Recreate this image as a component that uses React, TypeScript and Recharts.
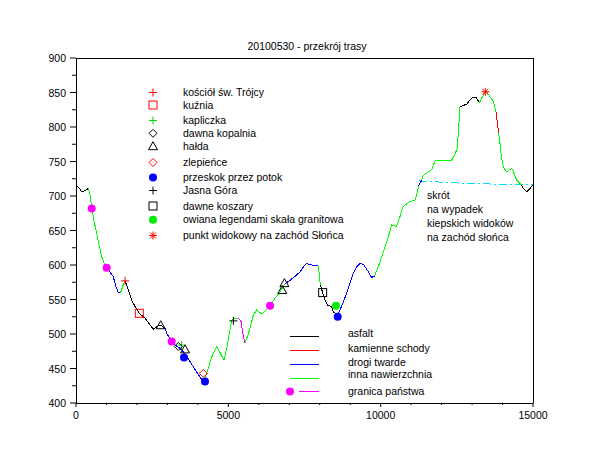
import { ComposedChart, Line, Scatter, XAxis, YAxis, ReferenceLine } from "recharts";

// elevation profile: distance [m], height [m a.s.l.], surface of the stretch starting at that point
const dist = [
  0, 100, 190, 300, 405, 470, 515, 600, 680, 760, 843, 920, 1006, 1070, 1160, 1225, 1300, 1390, 1466, 1540,
  1608, 1663, 1750, 1827, 1937, 2078, 2265, 2400, 2538, 2670, 2780, 2921, 2976, 3140, 3250, 3357, 3467, 3578, 3742, 3960,
  4092, 4200, 4300, 4450, 4618, 4740, 4858, 4950, 5033, 5110, 5200, 5330, 5420, 5480, 5547, 5630, 5711, 5820, 5930, 6095,
  6250, 6368, 6520, 6696, 6840, 7000, 7200, 7352, 7480, 7571, 7735, 7954, 7990, 8020, 8096, 8173, 8249, 8391, 8446, 8520,
  8589, 8665, 8780, 8884, 9000, 9103, 9220, 9322, 9431, 9600, 9700, 9800, 9869, 10000, 10142, 10260, 10361, 10525, 10640, 10744,
  10963, 11127, 11200, 11250, 11346, 11400, 11674, 11783, 12331, 12450, 12514, 12560, 12604, 12700, 12823, 12940, 13041, 13151, 13238, 13315,
  13435, 13480, 13600, 13698, 13786, 13874, 13917, 13970, 14026, 14136, 14300, 14355, 14464, 14628, 14683, 14792, 14902, 15000,
];
const elev = [
  716, 712, 706, 708, 711, 700, 682, 662, 646, 628, 612, 603, 596, 592, 587, 583, 570, 560, 560, 570,
  577, 571, 560, 549, 540, 530, 523, 515, 507, 511, 513, 508, 501, 489, 484, 481, 477, 471, 460, 445,
  436, 431, 445, 466, 482, 472, 462, 480, 501, 520, 523, 523, 518, 500, 487, 497, 508, 527, 535, 529,
  535, 541, 551, 561, 572, 577, 584, 590, 598, 602, 600, 599, 585, 571, 560, 549, 542, 540, 532, 530,
  527, 535, 547, 559, 575, 588, 598, 602, 601, 590, 582, 584, 592, 607, 626, 642, 658, 656, 671, 685,
  692, 694, 705, 715, 723, 730, 738, 751, 752, 762, 769, 800, 829, 831, 833, 840, 843, 842, 835, 842,
  851, 851, 843, 837, 822, 791, 776, 755, 742, 735, 740, 735, 723, 716, 711, 706, 711, 716,
];
const surface = [
  "A", "A", "A", "A", "I", "I", "I", "I", "I", "I", "I", "I", "I", "D", "D", "D", "D", "D", "I", "I",
  "A", "A", "A", "A", "A", "A", "A", "A", "A", "A", "A", "D", "D", "D", "D", "D", "D", "D", "D", "D",
  "D", "I", "I", "I", "I", "I", "I", "I", "I", "I", "I", "G", "G", "G", "I", "I", "I", "I", "I", "I",
  "I", "I", "I", "I", "D", "D", "D", "D", "D", "D", "D", "I", "I", "A", "A", "A", "A", "A", "A", "D",
  "D", "D", "D", "D", "D", "D", "D", "D", "D", "D", "D", "I", "I", "I", "I", "I", "I", "I", "I", "I",
  "I", "I", "I", "D", "I", "I", "I", "I", "I", "I", "I", "I", "A", "A", "A", "A", "A", "A", "I", "I",
  "I", "I", "I", "I", "K", "I", "I", "I", "I", "I", "I", "I", "I", "A", "A", "A", "A", "A",
];

// shortcut
const skrotD = [11269, 12000, 12932, 14000, 15000];
const skrotE = [722, 720, 718, 717, 716];

// landmarks [distance, height]
const kosciol = [[1610, 577]];
const kuznia = [[2078, 530]];
const kapliczka = [[3467, 484]];
const kopalnia = [[3357, 482]];
const halda = [[2780, 512], [3578, 477], [6770, 563], [6840, 573]];
const zlepience = [[4180, 443]];
const potok = [[3545, 466], [4234, 431], [8589, 525]];
const jasnaGora = [[5165, 519]];
const koszary = [[8096, 560]];
const skala = [[8534, 541]];
const punkt = [[13435, 851]];
const granica = [[515, 682], [1006, 596], [3140, 489], [6368, 541]];

const xTicks = [0, 1000, 2000, 3000, 4000, 5000, 6000, 7000, 8000, 9000, 10000, 11000, 12000, 13000, 14000, 15000];
const yTicks = [400, 425, 450, 475, 500, 525, 550, 575, 600, 625, 650, 675, 700, 725, 750, 775, 800, 825, 850, 875, 900];

const surfaceColor: Record<string, string> = {
  A: "#000000",
  K: "#ff0000",
  D: "#0000ff",
  I: "#00ff00",
  G: "#ff00ff",
};

const FONT = "'Liberation Sans', Arial, sans-serif";

// split profile into runs of one surface
const runs: { s: string; pts: { d: number; e: number }[] }[] = [];
for (let i = 0; i < dist.length - 1; i++) {
  const s = surface[i];
  const last = runs[runs.length - 1];
  if (last && last.s === s) {
    last.pts.push({ d: dist[i + 1], e: elev[i + 1] });
  } else {
    runs.push({ s, pts: [{ d: dist[i], e: elev[i] }, { d: dist[i + 1], e: elev[i + 1] }] });
  }
}

const skrot = skrotD.map((d, i) => ({ d, e: skrotE[i] }));
const toPts = (arr: number[][]) => arr.map(([d, e]) => ({ d, e }));

function Mark({ kind, cx, cy, color }: { kind: string; cx: number; cy: number; color: string }) {
  const r = 4;
  switch (kind) {
    case "plus":
      return (
        <g stroke={color} strokeWidth={1}>
          <line x1={cx - r} x2={cx + r} y1={cy} y2={cy} />
          <line x1={cx} x2={cx} y1={cy - r} y2={cy + r} />
        </g>
      );
    case "square":
      return <rect x={cx - r} y={cy - r} width={2 * r} height={2 * r} fill="none" stroke={color} />;
    case "diamond":
      return (
        <polygon
          points={`${cx},${cy - r} ${cx + r},${cy} ${cx},${cy + r} ${cx - r},${cy}`}
          fill="none"
          stroke={color}
        />
      );
    case "triangle":
      return (
        <polygon
          points={`${cx},${cy - 5} ${cx + 4.5},${cy + 3} ${cx - 4.5},${cy + 3}`}
          fill="none"
          stroke={color}
        />
      );
    case "dot":
      return <circle cx={cx} cy={cy} r={4} fill={color} />;
    case "star":
      return (
        <g stroke={color} strokeWidth={1}>
          <line x1={cx - r} x2={cx + r} y1={cy} y2={cy} />
          <line x1={cx} x2={cx} y1={cy - r} y2={cy + r} />
          <line x1={cx - 3} x2={cx + 3} y1={cy - 3} y2={cy + 3} />
          <line x1={cx - 3} x2={cx + 3} y1={cy + 3} y2={cy - 3} />
        </g>
      );
    default:
      return null;
  }
}

const landmarks = [
  { name: "kościół św. Trójcy", kind: "plus", color: "#ff0000", pts: kosciol },
  { name: "kuźnia", kind: "square", color: "#ff0000", pts: kuznia },
  { name: "kapliczka", kind: "plus", color: "#00dd00", pts: kapliczka },
  { name: "dawna kopalnia", kind: "diamond", color: "#000000", pts: kopalnia },
  { name: "hałda", kind: "triangle", color: "#000000", pts: halda },
  { name: "zlepieńce", kind: "diamond", color: "#ff0000", pts: zlepience },
  { name: "przeskok przez potok", kind: "dot", color: "#0000ff", pts: potok },
  { name: "Jasna Góra", kind: "plus", color: "#000000", pts: jasnaGora },
  { name: "dawne koszary", kind: "square", color: "#000000", pts: koszary },
  { name: "owiana legendami skała granitowa", kind: "dot", color: "#00ee00", pts: skala },
  { name: "punkt widokowy na zachód Słońca", kind: "star", color: "#ff0000", pts: punkt },
];
const legendY = [92.5, 105, 120.5, 133.3, 146.7, 162.5, 177.5, 190.5, 206, 219.7, 235.5];

const surfaceLegend = [
  { name: "asfalt", s: "A" },
  { name: "kamienne schody", s: "K" },
  { name: "drogi twarde", s: "D" },
  { name: "inna nawierzchnia", s: "I" },
  { name: "granica państwa", s: "G" },
];
const surfaceLineY = [336, 350, 364, 378, 391.5];
const surfaceTextY = [333, 348, 362, 374.5, 391];

const skrotText = ["skrót", "na wypadek", "kiepskich widoków", "na zachód słońca"];

function XTick(props: any) {
  const { x, y, payload } = props;
  const v = payload.value as number;
  const major = v % 5000 === 0;
  return (
    <g>
      <line x1={x} x2={x} y1={y} y2={y + (major ? 4 : 2)} stroke="#000" />
      {major && (
        <text x={x} y={y + 16} textAnchor="middle" fontSize={10.5} fontFamily={FONT} fill="#000">
          {v}
        </text>
      )}
    </g>
  );
}

function YTick(props: any) {
  const { x, y, payload } = props;
  const v = payload.value as number;
  const major = v % 50 === 0;
  return (
    <g>
      <line x1={x - (major ? 6 : 4)} x2={x} y1={y} y2={y} stroke="#000" />
      {major && (
        <text x={x - 10} y={y + 4} textAnchor="end" fontSize={10.5} fontFamily={FONT} fill="#000">
          {v}
        </text>
      )}
    </g>
  );
}

export default function App() {
  return (
    <div
      className="profile"
      style={{ position: "absolute", left: 0, top: 0, width: 610, height: 460, background: "#fff" }}
    >
      <style>{`.profile .recharts-cartesian-axis line, .profile .recharts-reference-line line, .profile .recharts-line path, .profile .legend-line { shape-rendering: crispEdges; }`}</style>
      <ComposedChart width={610} height={460} margin={{ top: 58, right: 77, bottom: 27, left: 16 }}>
        <XAxis
          dataKey="d"
          type="number"
          domain={[0, 15000]}
          ticks={xTicks}
          interval={0}
          tickSize={0}
          tickMargin={0}
          tick={<XTick />}
          height={30}
          stroke="#000"
          allowDataOverflow
        />
        <YAxis
          type="number"
          domain={[400, 900]}
          ticks={yTicks}
          interval={0}
          tickSize={0}
          tickMargin={0}
          tick={<YTick />}
          width={60}
          stroke="#000"
          allowDataOverflow
        />
        <ReferenceLine y={900} stroke="#000" />
        <ReferenceLine x={15000} stroke="#000" />
        <Line
          data={skrot}
          dataKey="e"
          type="linear"
          stroke="#00e0ff"
          strokeWidth={1}
          strokeDasharray="8 3 2 3"
          dot={false}
          isAnimationActive={false}
        />
        {runs.map((r, i) => (
          <Line
            key={`run-${i}`}
            data={r.pts}
            dataKey="e"
            type="linear"
            stroke={surfaceColor[r.s]}
            strokeWidth={1}
            dot={false}
            isAnimationActive={false}
          />
        ))}
        <Scatter
          data={toPts(granica)}
          dataKey="e"
          isAnimationActive={false}
          shape={(p: any) => <Mark kind="dot" cx={p.cx} cy={p.cy} color="#ff00ff" />}
        />
        {landmarks.map((m, i) => (
          <Scatter
            key={`lm-${i}`}
            data={toPts(m.pts)}
            dataKey="e"
            isAnimationActive={false}
            shape={(p: any) => <Mark kind={m.kind} cx={p.cx} cy={p.cy} color={m.color} />}
          />
        ))}
      </ComposedChart>
      <svg
        width={610}
        height={460}
        style={{ position: "absolute", left: 0, top: 0, pointerEvents: "none" }}
        fontFamily={FONT}
        fontSize={10.5}
      >
        <text x={307} y={50} textAnchor="middle" fill="#000">
          20100530 - przekrój trasy
        </text>
        {landmarks.map((m, i) => (
          <g key={`lg-${i}`}>
            <Mark kind={m.kind} cx={153} cy={legendY[i]} color={m.color} />
            <text x={183} y={legendY[i] + 3.5} fill="#000">
              {m.name}
            </text>
          </g>
        ))}
        {surfaceLegend.map((s, i) => (
          <g key={`sl-${i}`}>
            {s.s === "G" ? (
              <>
                <circle cx={290} cy={surfaceLineY[i]} r={4} fill="#ff00ff" />
                <line
                  className="legend-line"
                  x1={299}
                  x2={319}
                  y1={surfaceLineY[i]}
                  y2={surfaceLineY[i]}
                  stroke="#ff00ff"
                />
              </>
            ) : (
              <line
                className="legend-line"
                x1={290}
                x2={319}
                y1={surfaceLineY[i]}
                y2={surfaceLineY[i]}
                stroke={surfaceColor[s.s]}
              />
            )}
            <text x={348} y={surfaceTextY[i] + 3.5} fill="#000">
              {s.name}
            </text>
          </g>
        ))}
        {skrotText.map((t, i) => (
          <text key={`sk-${i}`} x={427} y={198.5 + i * 14} fill="#000">
            {t}
          </text>
        ))}
      </svg>
    </div>
  );
}
